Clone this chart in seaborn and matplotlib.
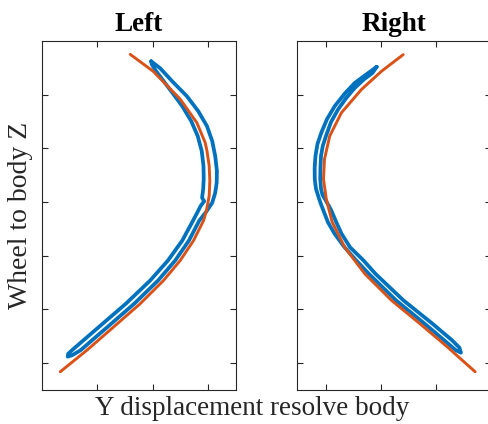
import numpy as np
import pandas as pd
import matplotlib
matplotlib.use("Agg")
import matplotlib.pyplot as plt
import seaborn as sns

# ---- data (arbitrary units) ----
left_fit_x = [0.595, 1.009, 1.495, 1.796, 1.946, 1.978, 2.018, 2.029, 2.018, 1.968,
              1.915, 1.735, 1.495, 1.195, 0.775, 0.294, -0.186, -0.667]
left_fit_y = [5.751, 5.436, 4.917, 4.477, 4.106, 3.952, 3.673, 3.395, 3.117, 2.839,
              2.653, 2.282, 1.911, 1.540, 1.108, 0.673, 0.241, -0.161]

left_meas_x = [0.973, 1.135, 1.351, 1.616, 1.820, 1.977, 2.072, 2.126, 2.157, 2.153,
               2.126, 2.072, 1.964, 1.838, 1.652, 1.405, 1.097, 0.668, 0.184, -0.092,
               -0.299, -0.450, -0.532, -0.523, -0.423, -0.247, 0.029, 0.517, 0.955, 1.274,
               1.532, 1.726, 1.811, 1.865, 1.928, 1.890, 1.910, 1.919, 1.915, 1.883,
               1.811, 1.694, 1.532, 1.333, 1.171, 1.063, 0.982, 0.973]
left_meas_y = [5.622, 5.492, 5.250, 4.972, 4.694, 4.416, 4.137, 3.859, 3.581, 3.358,
               3.173, 2.987, 2.820, 2.653, 2.282, 1.911, 1.540, 1.108, 0.673, 0.427,
               0.241, 0.148, 0.121, 0.176, 0.269, 0.427, 0.673, 1.108, 1.540, 1.911,
               2.282, 2.653, 2.820, 2.931, 3.015, 3.080, 3.247, 3.432, 3.673, 3.952,
               4.230, 4.508, 4.787, 5.065, 5.288, 5.436, 5.566, 5.622]

right_fit_x = [1.405, 1.011, 0.647, 0.284, 0.073, -0.022, -0.040, 0.011, 0.115, 0.345,
               0.709, 1.193, 1.705, 2.205, 2.709]
right_fit_y = [5.746, 5.436, 5.096, 4.662, 4.230, 3.798, 3.427, 3.056, 2.635, 2.158,
               1.664, 1.169, 0.737, 0.302, -0.161]

right_meas_x = [0.924, 0.715, 0.527, 0.351, 0.164, 0.024, -0.080, -0.149, -0.185, -0.200,
                -0.198, -0.176, -0.131, -0.095, -0.040, 0.042, 0.160, 0.342, 0.555, 0.782,
                1.275, 1.791, 2.147, 2.358, 2.451, 2.424, 2.289, 1.933, 1.409, 0.902,
                0.687, 0.442, 0.287, 0.193, 0.096, 0.005, -0.058, -0.085, -0.098, -0.095,
                -0.085, -0.053, 0.005, 0.096, 0.224, 0.369, 0.527, 0.696, 0.851, 0.924]
right_meas_y = [5.519, 5.362, 5.219, 5.028, 4.787, 4.545, 4.291, 4.082, 3.859, 3.636,
                3.427, 3.247, 3.098, 2.987, 2.839, 2.622, 2.412, 2.158, 1.911, 1.664,
                1.169, 0.737, 0.427, 0.241, 0.195, 0.288, 0.427, 0.737, 1.169, 1.664,
                1.911, 2.158, 2.412, 2.622, 2.857, 3.024, 3.135, 3.247, 3.427, 3.636,
                3.859, 4.045, 4.230, 4.490, 4.725, 4.935, 5.126, 5.288, 5.408, 5.519]

titles = ["Left", "Right"]
xlabel = "Y displacement resolve body"
ylabel = "Wheel to body Z"
x_ticks = [0, 1, 2]
y_ticks = [0, 1, 2, 3, 4, 5]

BLUE = "#0072BD"
ORANGE = "#D95319"

sns.set_style("white")
plt.rcParams["font.family"] = ["Liberation Serif", "DejaVu Serif"]

fig = plt.figure(figsize=(4.88, 4.24), dpi=100)
ax_l = fig.add_axes([0.0855, 0.0802, 0.398, 0.8231])
ax_r = fig.add_axes([0.6086, 0.0802, 0.398, 0.8231])

panels = [
    (ax_l, left_meas_x, left_meas_y, left_fit_x, left_fit_y, (-1.0, 2.5)),
    (ax_r, right_meas_x, right_meas_y, right_fit_x, right_fit_y, (-0.52, 3.0)),
]

line_kw = dict(sort=False, estimator=None, solid_capstyle="round", solid_joinstyle="round")

for (ax, mx, my, fx, fy, xl), title in zip(panels, titles):
    sns.lineplot(x=mx, y=my, color=BLUE, lw=2.7, ax=ax, **line_kw)
    sns.lineplot(x=fx, y=fy, color=ORANGE, lw=2.1, ax=ax, **line_kw)
    ax.set_xlim(*xl)
    ax.set_ylim(-0.5, 6.0)
    ax.set_xticks(x_ticks)
    ax.set_yticks(y_ticks)
    ax.set_xticklabels([])
    ax.set_yticklabels([])
    ax.tick_params(direction="in", length=4, width=0.8, color="#262626",
                   top=True, right=True, bottom=True, left=True)
    for s in ax.spines.values():
        s.set_visible(True)
        s.set_color("#262626")
        s.set_linewidth(0.8)
    ax.set_title(title, fontsize=19.5, fontweight="bold", pad=7, color="black")
    ax.set_xlabel("")
    ax.set_ylabel("")

fig.text(0.516, 0.037, xlabel, ha="center", va="center", fontsize=19.5, color="#262626")
fig.text(0.042, 0.493, ylabel, ha="center", va="center", rotation=90, fontsize=20,
         color="#262626")

fig.savefig("out.png", dpi=100)
